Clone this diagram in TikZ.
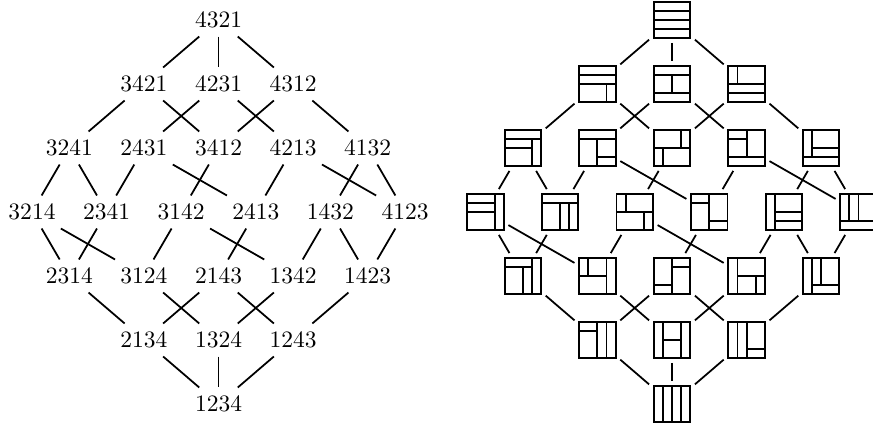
\documentclass[tikz,border=0pt]{standalone}
\usetikzlibrary{calc}
\tikzset{
  lbl/.style={inner sep=0.3333em},
  rbx/.style={draw, line width=0.8pt, minimum size=15.5pt, inner sep=0pt, outer sep=2pt},
  seg/.style={line width=0.8pt},
  edge/.style={line width=0.75pt}
}
\newcommand\rbox[4]{%
  \node[rbx] (#1) at (#2,#3) {};
  \begin{scope}[shift={(#1.center)}, x=3.875pt, y=3.875pt, shift={(-2,-2)}]
    \foreach \a/\b/\c/\d in {#4} \draw[seg] (\a,\b) -- (\c,\d);
  \end{scope}}
\begin{document}
\begin{tikzpicture}[x=0.4255pt, y=-0.4255pt]
\useasboundingbox (0,0) rectangle (873,431);
% left: permutations
\def\L{218.5}\def\R{672}\def\u{37.3}
\foreach \n/\k/\r in {4321/0/0,
  3421/-2/1, 4231/0/1, 4312/2/1,
  3241/-4/2, 2431/-2/2, 3412/0/2, 4213/2/2, 4132/4/2,
  3214/-5/3, 2341/-3/3, 3142/-1/3, 2413/1/3, 1432/3/3, 4123/5/3,
  2314/-4/4, 3124/-2/4, 2143/0/4, 1342/2/4, 1423/4/4,
  2134/-2/5, 1324/0/5, 1243/2/5,
  1234/0/6}
  \node[lbl] (p\n) at ({\L+\k*\u},{20+64*\r}) {\n};
% right: rectangulations
\rbox{r4321}{\R}{20}{0/1/4/1, 0/2/4/2, 0/3/4/3}
\rbox{r3421}{\R-2*\u}{84}{0/3/4/3, 0/2/4/2, 3/0/3/2}
\rbox{r4231}{\R}{84}{0/3/4/3, 0/1/4/1, 2/1/2/3}
\rbox{r4312}{\R+2*\u}{84}{1/2/1/4, 0/2/4/2, 0/1/4/1}
\rbox{r3241}{\R-4*\u}{148}{0/3/4/3, 3/0/3/3, 0/2/3/2}
\rbox{r2431}{\R-2*\u}{148}{0/3/4/3, 2/0/2/3, 2/1/4/1}
\rbox{r3412}{\R}{148}{0/2/4/2, 3/2/3/4, 1/0/1/2}
\rbox{r4213}{\R+2*\u}{148}{0/1/4/1, 2/1/2/4, 0/3/2/3}
\rbox{r4132}{\R+4*\u}{148}{1/1/1/4, 1/2/4/2, 0/1/4/1}
\rbox{r3214}{\R-5*\u}{212}{3/0/3/4, 0/3/3/3, 0/2/3/2}
\rbox{r2341}{\R-3*\u}{212}{0/3/4/3, 2/0/2/3, 3/0/3/3}
\rbox{r3142}{\R-1*\u}{212}{0/2/4/2, 1/2/1/4, 3/0/3/2}
\rbox{r2413}{\R+1*\u}{212}{2/0/2/4, 0/3/2/3, 2/1/4/1}
\rbox{r1432}{\R+3*\u}{212}{1/0/1/4, 1/2/4/2, 1/1/4/1}
\rbox{r4123}{\R+5*\u}{212}{0/1/4/1, 1/1/1/4, 2/1/2/4}
\rbox{r2314}{\R-4*\u}{276}{3/0/3/4, 0/3/3/3, 2/0/2/3}
\rbox{r3124}{\R-2*\u}{276}{3/0/3/4, 0/2/3/2, 1/2/1/4}
\rbox{r2143}{\R}{276}{2/0/2/4, 0/1/2/1, 2/3/4/3}
\rbox{r1342}{\R+2*\u}{276}{1/0/1/4, 1/2/4/2, 3/0/3/2}
\rbox{r1423}{\R+4*\u}{276}{1/0/1/4, 1/1/4/1, 2/1/2/4}
\rbox{r2134}{\R-2*\u}{340}{2/0/2/4, 3/0/3/4, 0/3/2/3}
\rbox{r1324}{\R}{340}{1/0/1/4, 3/0/3/4, 1/2/3/2}
\rbox{r1243}{\R+2*\u}{340}{1/0/1/4, 2/0/2/4, 2/1/4/1}
\rbox{r1234}{\R}{404}{1/0/1/4, 2/0/2/4, 3/0/3/4}
% cover relations
\foreach \a/\b in {4321/3421, 4321/4231, 4321/4312,
  3421/3241, 3421/3412, 4231/2431, 4231/4213, 4312/3412, 4312/4132,
  3241/3214, 3241/2341, 2431/2341, 2431/2413, 3412/3142,
  4213/2413, 4213/4123, 4132/1432, 4132/4123,
  3214/2314, 3214/3124, 2341/2314, 3142/3124, 3142/1342,
  2413/2143, 1432/1342, 1432/1423, 4123/1423,
  2314/2134, 3124/1324, 2143/2134, 2143/1243, 1342/1324, 1423/1243,
  2134/1234, 1324/1234, 1243/1234}
  {\draw[edge] (p\a) -- (p\b);
   \draw[edge] (r\a) -- (r\b);}
\end{tikzpicture}
\end{document}
